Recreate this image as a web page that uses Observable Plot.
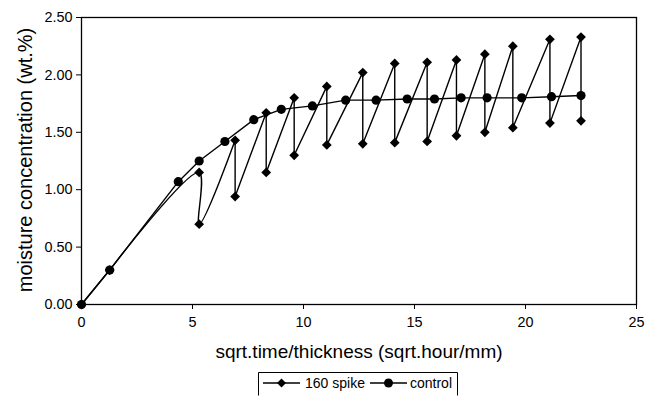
<!DOCTYPE html>
<html>
<head>
<meta charset="utf-8">
<script src="https://cdn.jsdelivr.net/npm/d3@7"></script>
<script src="https://cdn.jsdelivr.net/npm/@observablehq/plot@0.6"></script>
<style>
  body { margin: 0; background: #fff; font-family: "Liberation Sans", Arial, sans-serif; }
  #wrap { position: relative; width: 645px; height: 396px; overflow: hidden; }
  #legend { position: absolute; left: 258px; top: 372px; }
</style>
</head>
<body>
<div id="wrap"></div>
<script>
const controlX = [0, 1.27, 4.36, 5.3, 6.46, 7.76, 9.0, 10.4, 11.9, 13.27, 14.67, 15.9, 17.1, 18.27, 19.83, 21.17, 22.5];
const controlY = [0, 0.30, 1.07, 1.25, 1.42, 1.61, 1.70, 1.73, 1.78, 1.78, 1.79, 1.79, 1.80, 1.80, 1.80, 1.81, 1.82];
const spikeX = [0, 1.27, 5.3, 5.3, 6.92, 6.92, 8.32, 8.32, 9.58, 9.58, 11.05, 11.05, 12.67, 12.67, 14.11, 14.11, 15.57, 15.57, 16.89, 16.89, 18.17, 18.17, 19.43, 19.43, 21.1, 21.1, 22.5, 22.5];
const spikeY = [0, 0.30, 1.15, 0.70, 1.43, 0.94, 1.67, 1.15, 1.80, 1.30, 1.90, 1.39, 2.02, 1.40, 2.10, 1.41, 2.11, 1.42, 2.13, 1.47, 2.18, 1.50, 2.25, 1.54, 2.31, 1.58, 2.33, 1.60];
const xTicks = [0, 5, 10, 15, 20, 25];
const yTicks = [0, 0.5, 1.0, 1.5, 2.0, 2.5];
const seriesNames = ["160 spike", "control"];
const xLabel = "sqrt.time/thickness (sqrt.hour/mm)";
const yLabel = "moisture concentration (wt.%)";

const control = controlX.map((x, i) => ({x, y: controlY[i]}));
const spike = spikeX.map((x, i) => ({x, y: spikeY[i]}));
// the original's smoothing bends only the first drop (points 1..4)
const spikeStart = spike.slice(0, 2);
const spikeSmooth = spike.slice(1, 5);
const spikeRest = spike.slice(4);

const font = "'Liberation Sans', Arial, sans-serif";
const chart = Plot.plot({
  width: 645,
  height: 362,
  marginLeft: 81,
  marginRight: 9,
  marginTop: 17,
  marginBottom: 58,
  style: {fontFamily: font, color: "#000", background: "#fff"},
  x: {domain: [0, 25]},
  y: {domain: [0, 2.5]},
  marks: [
    Plot.frame({stroke: "#000", strokeWidth: 1.3}),
    Plot.axisX({ticks: xTicks, tickSize: 5, tickPadding: 7, fontSize: 14.4, label: null, tickFormat: d3.format("d")}),
    Plot.axisY({ticks: yTicks, tickSize: 5, tickPadding: 4, fontSize: 14.4, label: null, tickFormat: d3.format(".2f")}),
    Plot.text([xLabel], {frameAnchor: "bottom", lineAnchor: "middle", textAnchor: "middle", dy: 47, fontSize: 19, fill: "#000"}),
    Plot.text([yLabel], {frameAnchor: "left", lineAnchor: "middle", textAnchor: "middle", rotate: -90, dx: -56, dy: -1, fontSize: 20, fill: "#000"}),
    Plot.line(spikeStart, {x: "x", y: "y", stroke: "#000", strokeWidth: 1.4}),
    Plot.line(spikeSmooth, {x: "x", y: "y", stroke: "#000", strokeWidth: 1.4, curve: "catmull-rom"}),
    Plot.line(spikeRest, {x: "x", y: "y", stroke: "#000", strokeWidth: 1.4}),
    Plot.line(control, {x: "x", y: "y", stroke: "#000", strokeWidth: 1.4}),
    Plot.dot(spike, {x: "x", y: "y", symbol: "diamond2", r: 4.4, fill: "#000", stroke: "none"}),
    Plot.dot(control, {x: "x", y: "y", symbol: "circle", r: 4.6, fill: "#000", stroke: "none"})
  ]
});
document.getElementById("wrap").appendChild(chart);

// legend below the chart
const lg = d3.select("#wrap").append("svg").attr("id", "legend")
  .attr("width", 200).attr("height", 24).style("overflow", "visible");
lg.append("path").attr("d", "M0.5,23.5 V0.5 H199.5 V23.5").attr("fill", "none").attr("stroke", "#000");
const items = [
  {name: seriesNames[0], sym: "diamond", x0: 5, tx: 47},
  {name: seriesNames[1], sym: "circle", x0: 112, tx: 152}
];
items.forEach(it => {
  lg.append("line").attr("x1", it.x0).attr("x2", it.x0 + 37).attr("y1", 11).attr("y2", 11)
    .attr("stroke", "#000").attr("stroke-width", 1.4);
  const cx = it.x0 + 18.5;
  if (it.sym === "diamond") {
    lg.append("path").attr("d", `M${cx},6.5 L${cx + 4.5},11 L${cx},15.5 L${cx - 4.5},11 Z`).attr("fill", "#000");
  } else {
    lg.append("circle").attr("cx", cx).attr("cy", 11).attr("r", 4.5).attr("fill", "#000");
  }
  lg.append("text").attr("x", it.tx).attr("y", 11).attr("dy", "0.35em")
    .attr("font-family", font).attr("font-size", 14).text(it.name);
});
</script>
</body>
</html>
